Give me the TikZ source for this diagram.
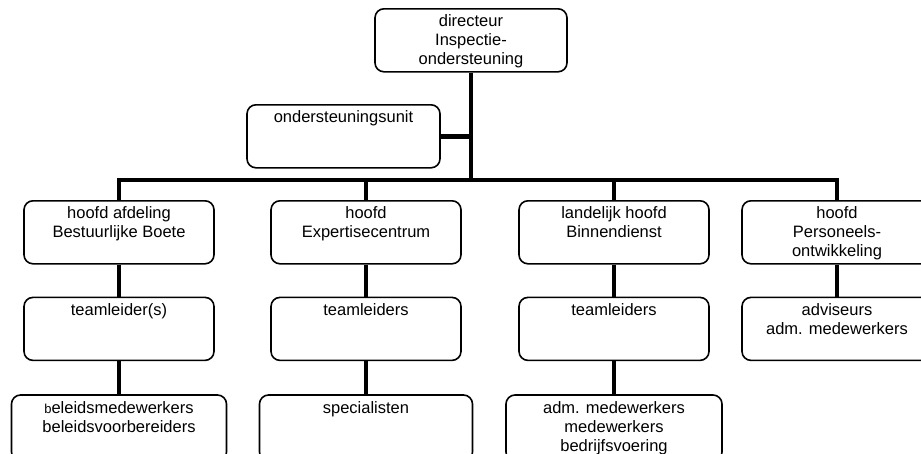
\documentclass[tikz,border=0pt]{standalone}
\usepackage{fontspec}
\setmainfont{Liberation Sans}
\usetikzlibrary{positioning}
\newcommand\regels[1]{\begin{tabular}[t]{@{}c@{}}#1\end{tabular}}
\tikzset{
	kader/.style={
			draw, line width=1.6pt, rounded corners=9pt,
			minimum width=#1, inner xsep=0pt, inner ysep=6pt,
			text height=12pt, text depth=39pt,
			font=\fontsize{16.5}{19}\selectfont
		},
	kader/.default=190pt,
	lijn/.style={line width=4.5pt}
}

\begin{document}
\begin{tikzpicture}[x=1pt, y=-1pt]
			\useasboundingbox (0,0) rectangle (921,453);
			\clip (0,0) rectangle (921,453);

			\node[kader=192pt, anchor=north] (dir) at (471,8) {\regels{directeur\\Inspectie-\\ondersteuning}};
			\node[kader=193pt, anchor=north] (unit) at (343.5,104) {ondersteuningsunit};

			\node[kader, anchor=north] (hoofdA) at (119,200) {\regels{hoofd afdeling\\Bestuurlijke Boete}};
			\node[kader, anchor=north] (hoofdB) at (366,200) {\regels{hoofd\\Expertisecentrum}};
			\node[kader, anchor=north] (hoofdC) at (614,200) {\regels{landelijk hoofd\\Binnendienst}};
			\node[kader, anchor=north] (hoofdD) at (837,200) {\regels{hoofd\\Personeels-\\ontwikkeling}};

			\node[kader, below=32pt of hoofdA] (teamA) {teamleider(s)};
			\node[kader, below=32pt of hoofdB] (teamB) {teamleiders};
			\node[kader, below=32pt of hoofdC] (teamC) {teamleiders};
			\node[kader, below=32pt of hoofdD] (teamD) {\regels{adviseurs\\adm. medewerkers}};

			\node[kader=215pt, text depth=42pt, below=33pt of teamA] (basisA) {\regels{{\fontsize{13}{19}\selectfont b}eleidsmedewerkers\\beleidsvoorbereiders}};
			\node[kader=213pt, text depth=42pt, below=33pt of teamB] (basisB) {specialisten};
			\node[kader=216pt, text depth=42pt, below=33pt of teamC] (basisC) {\regels{adm. medewerkers\\medewerkers\\bedrijfsvoering}};

			\coordinate (balk) at (0,180);
			\draw[lijn] (dir) -- (dir |- balk);
			\draw[lijn] (unit) -- (unit -| dir);
			\draw[lijn] (hoofdA) |- (balk -| hoofdD) -- (hoofdD);
			\foreach \k in {B, C} {
				\draw[lijn] (hoofd\k) -- (hoofd\k |- balk);
			}
			\foreach \k in {A, B, C, D} {
				\draw[lijn] (hoofd\k) -- (team\k);
			}
			\foreach \k in {A, B, C} {
				\draw[lijn] (team\k) -- (basis\k);
			}
		\end{tikzpicture}
\end{document}
